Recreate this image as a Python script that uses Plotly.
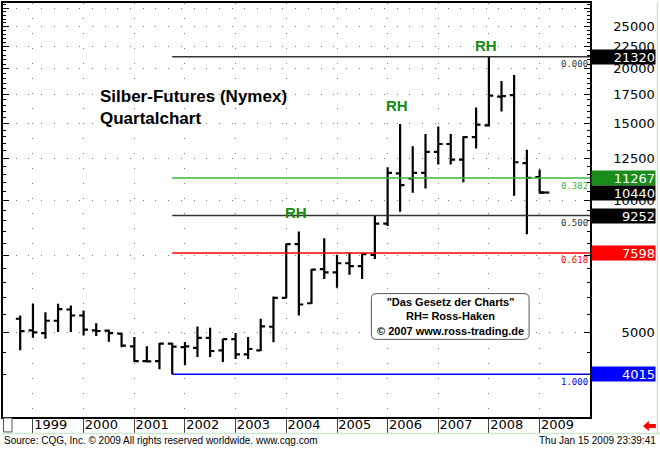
import numpy as np
import plotly.graph_objects as go

# Quartalsdaten Silber (Nymex), Kurse in 1/1000 USD
quartale = [
    "1998-10-01",
    "1999-01-01", "1999-04-01", "1999-07-01", "1999-10-01",
    "2000-01-01", "2000-04-01", "2000-07-01", "2000-10-01",
    "2001-01-01", "2001-04-01", "2001-07-01", "2001-10-01",
    "2002-01-01", "2002-04-01", "2002-07-01", "2002-10-01",
    "2003-01-01", "2003-04-01", "2003-07-01", "2003-10-01",
    "2004-01-01", "2004-04-01", "2004-07-01", "2004-10-01",
    "2005-01-01", "2005-04-01", "2005-07-01", "2005-10-01",
    "2006-01-01", "2006-04-01", "2006-07-01", "2006-10-01",
    "2007-01-01", "2007-04-01", "2007-07-01", "2007-10-01",
    "2008-01-01", "2008-04-01", "2008-07-01", "2008-10-01",
    "2009-01-01",
]
eroeffnung = [
    5376, 5056, 4985, 5320, 5644, 5469, 5056, 5050, 4970, 4650, 4300,
    4300, 4717, 4633, 4615, 4862, 4553, 4830, 4459, 4553, 5155, 5999,
    7958, 5833, 6982, 6860, 7198, 7093, 7525, 8864, 11545, 11240, 11575,
    12922, 13474, 12417, 13977, 14859, 17292, 17420, 12180, 11320,
]
hoch = [
    5469, 5815, 5566, 5815, 5763, 5616, 5253, 5075, 4995, 4882, 4650,
    4731, 4731, 4756, 5163, 5128, 4841, 4985, 4882, 5376, 6041, 7984,
    8501, 6982, 8213, 7525, 7617, 7585, 9231, 11924, 14959, 13314, 14197,
    14781, 14197, 14028, 16327, 21320, 18774, 19371, 13070, 11782,
]
tief = [
    4553, 4862, 4841, 5011, 5011, 4925, 4907, 4765, 4626, 4283, 4270,
    4122, 4015, 4210, 4396, 4396, 4283, 4350, 4350, 4540, 4750, 5990,
    5469, 5820, 6627, 6331, 6775, 6627, 7359, 8758, 9438, 10426, 10668,
    12095, 12095, 11025, 13152, 14780, 15989, 10260, 8386, 10380,
]
schluss = [
    5037, 5003, 5320, 5655, 5469, 5075, 5040, 4985, 4668, 4300, 4295,
    4717, 4645, 4650, 4862, 4537, 4830, 4459, 4585, 5163, 5999, 7958,
    5794, 6960, 6860, 7198, 7093, 7552, 8864, 11575, 10854, 11575, 12922,
    13474, 12417, 13977, 14914, 17384, 17340, 12243, 11276, 10440,
]

# Ross-Haken
rh_quartale = ["2004-04-01", "2006-04-01", "2008-01-01"]
rh_yshift = [19, 19, 11]

# Fibonacci (logarithmisch)
fib_ratios = [0.0, 0.382, 0.5, 0.618, 1.0]
fib_labels = ["0.000", "0.382", "0.500", "0.618", "1.000"]
fib_farben = ["#333333", "#3cb43c", "#333333", "#ff0000", "#0000ff"]
box_farben = ["#000000", "#1a8c1a", "#000000", "#ff0000", "#0000ff"]

y_ticks = [5000, 7500, 10000, 12500, 15000, 17500, 20000, 22500, 25000, 27500]
y_ticktext = ["\u20075000", "\u20077500", "10000", "12500", "15000", "17500",
              "20000", "22500", "25000", ""]

x_start = "1998-05-30"
x_ende = "2009-12-30"

hi = max(hoch)
lo = min(tief)
i_lo = tief.index(lo)
fib_werte = [10 ** (np.log10(hi) - r * (np.log10(hi) - np.log10(lo))) for r in fib_ratios]

minor_ticks = [v for v in range(4000, 28500, 500) if v not in y_ticks]


def px(x):
    return (x - 2) / 588


def py(y):
    return (417 - y) / 416


fig = go.Figure()

# Fibonacci-Linien
for wert, farbe in zip(fib_werte, fib_farben):
    fig.add_trace(go.Scatter(
        x=[quartale[i_lo], x_ende],
        y=[wert, wert],
        mode="lines",
        line=dict(color=farbe, width=1.5),
        hoverinfo="skip",
        showlegend=False,
    ))

# Quartalsbalken
fig.add_trace(go.Ohlc(
    x=quartale,
    open=eroeffnung,
    high=hoch,
    low=tief,
    close=schluss,
    tickwidth=0.35,
    increasing=dict(line=dict(color="black", width=2.2)),
    decreasing=dict(line=dict(color="black", width=2.2)),
    showlegend=False,
))

# aktueller Kurs: verlaengerter Schlussstrich
fig.add_trace(go.Scatter(
    x=[quartale[-1], "2009-03-12"],
    y=[schluss[-1], schluss[-1]],
    mode="lines",
    line=dict(color="black", width=2.2),
    hoverinfo="skip",
    showlegend=False,
))

annotations = []

# Titel
annotations.append(dict(
    x=px(97), y=py(106), xref="paper", yref="paper",
    xanchor="left", yanchor="middle", align="left", showarrow=False,
    text="<b>Silber-Futures (Nymex)<br>Quartalchart</b>",
    font=dict(family="Liberation Sans, Arial", size=17, color="black"),
))

# RH
for q, ys in zip(rh_quartale, rh_yshift):
    annotations.append(dict(
        x=q, y=np.log10(hoch[quartale.index(q)]), xref="x", yref="y",
        text="<b>RH</b>", showarrow=False,
        xanchor="center", yanchor="middle",
        yshift=ys, xshift=-3,
        font=dict(family="Liberation Sans, Arial", size=15, color="#138a13"),
    ))

# Fibonacci-Beschriftung und Kursboxen
for wert, lab, farbe, bfarbe in zip(fib_werte, fib_labels, fib_farben, box_farben):
    annotations.append(dict(
        x=1, y=np.log10(wert), xref="paper", yref="y",
        xanchor="right", yanchor="top", yshift=-0.5, showarrow=False,
        text=lab,
        font=dict(family="DejaVu Sans Mono", size=9, color=farbe),
    ))
    annotations.append(dict(
        x=1, y=np.log10(wert), xref="paper", yref="y",
        xanchor="left", yanchor="middle", xshift=1, showarrow=False,
        text=f"{wert:.0f}", align="right", width=63, height=14,
        bgcolor=bfarbe, borderpad=0,
        font=dict(family="DejaVu Sans", size=13, color="white"),
    ))

annotations.append(dict(
    x=1, y=np.log10(schluss[-1]), xref="paper", yref="y",
    xanchor="left", yanchor="middle", xshift=1, showarrow=False,
    text=f"{schluss[-1]}", align="right", width=63, height=14,
    bgcolor="black", borderpad=0,
    font=dict(family="DejaVu Sans", size=13, color="white"),
))

# Copyright-Box
annotations.append(dict(
    x=px(450), y=py(316), xref="paper", yref="paper",
    xanchor="center", yanchor="middle",
    showarrow=False, align="center",
    text="<b>\"Das Gesetz der Charts\"<br>RH= Ross-Haken<br>© 2007 www.ross-trading.de</b>",
    font=dict(family="Liberation Sans, Arial", size=11, color="black"),
))

# Fusszeile
annotations.append(dict(
    x=px(1), y=py(441), xref="paper", yref="paper",
    xanchor="left", yanchor="middle", showarrow=False,
    text="Source: CQG, Inc. © 2009 All rights reserved worldwide. www.cqg.com",
    font=dict(family="Liberation Sans, Arial", size=10, color="black"),
))
annotations.append(dict(
    x=px(658), y=py(441), xref="paper", yref="paper",
    xanchor="right", yanchor="middle", showarrow=False,
    text="Thu Jan 15 2009 23:39:41",
    font=dict(family="Liberation Sans, Arial", size=10, color="black"),
))

# abgerundete Box
x0, x1, y0, y1 = px(371), px(529), py(339), py(293)
rx, ry = 5 / 588, 5 / 416
box_path = (
    f"M {x0 + rx},{y0} L {x1 - rx},{y0} Q {x1},{y0} {x1},{y0 + ry} "
    f"L {x1},{y1 - ry} Q {x1},{y1} {x1 - rx},{y1} "
    f"L {x0 + rx},{y1} Q {x0},{y1} {x0},{y1 - ry} "
    f"L {x0},{y0 + ry} Q {x0},{y0} {x0 + rx},{y0} Z"
)

pfeil = (
    f"M {px(643)},{py(426)} L {px(649)},{py(421)} L {px(649)},{py(424)} "
    f"L {px(656)},{py(424)} L {px(656)},{py(428)} L {px(649)},{py(428)} "
    f"L {px(649)},{py(431)} Z"
)

shapes = [
    dict(type="path", path=box_path, xref="paper", yref="paper",
         line=dict(color="#555555", width=1), fillcolor="white", layer="above"),
    dict(type="line", xref="paper", yref="paper",
         x0=px(0), x1=px(660), y0=py(433.5), y1=py(433.5),
         line=dict(color="#cfe6cf", width=1.5)),
    dict(type="line", xref="paper", yref="paper",
         x0=px(657.5), x1=px(657.5), y0=py(433.5), y1=py(0),
         line=dict(color="#cfe6cf", width=1.5)),
    dict(type="rect", xref="paper", yref="paper",
         x0=px(2.5), x1=px(11), y0=py(432), y1=py(418),
         line=dict(color="#555555", width=1), fillcolor="white"),
    dict(type="path", path=pfeil, xref="paper", yref="paper",
         line=dict(color="red", width=0), fillcolor="red"),
]

fig.update_layout(
    width=660,
    height=449,
    margin=dict(l=2, r=70, t=1, b=32),
    paper_bgcolor="white",
    plot_bgcolor="white",
    showlegend=False,
    annotations=annotations,
    shapes=shapes,
    xaxis=dict(
        type="date",
        range=[x_start, x_ende],
        tick0="1999-01-01",
        dtick="M12",
        tickformat="%Y",
        ticks="outside",
        ticklen=15,
        tickwidth=1,
        tickcolor="#444444",
        ticklabelposition="outside right",
        ticklabelstandoff=-5,
        tickfont=dict(family="DejaVu Sans", size=13, color="black"),
        showgrid=True,
        gridcolor="#777777",
        griddash="1px,14px",
        showline=True,
        linecolor="black",
        linewidth=1.5,
        mirror=True,
        zeroline=False,
        rangeslider=dict(visible=False),
    ),
    yaxis=dict(
        type="log",
        range=[3.5061, 4.4515],
        side="right",
        tickmode="array",
        tickvals=y_ticks,
        ticktext=y_ticktext,
        ticks="inside",
        ticklen=6,
        tickcolor="black",
        ticklabelstandoff=19,
        minor=dict(tickmode="array", tickvals=minor_ticks, ticks="inside",
                   ticklen=3, tickcolor="black", showgrid=False),
        tickfont=dict(family="DejaVu Sans", size=13, color="black"),
        showgrid=True,
        gridcolor="#777777",
        griddash="1px,11.7px",
        showline=True,
        linecolor="black",
        linewidth=1.5,
        mirror="allticks",
        zeroline=False,
    ),
)

fig.write_html(
    "out.html",
    config={"displayModeBar": False},
    post_script="document.body.style.margin='0';",
)
